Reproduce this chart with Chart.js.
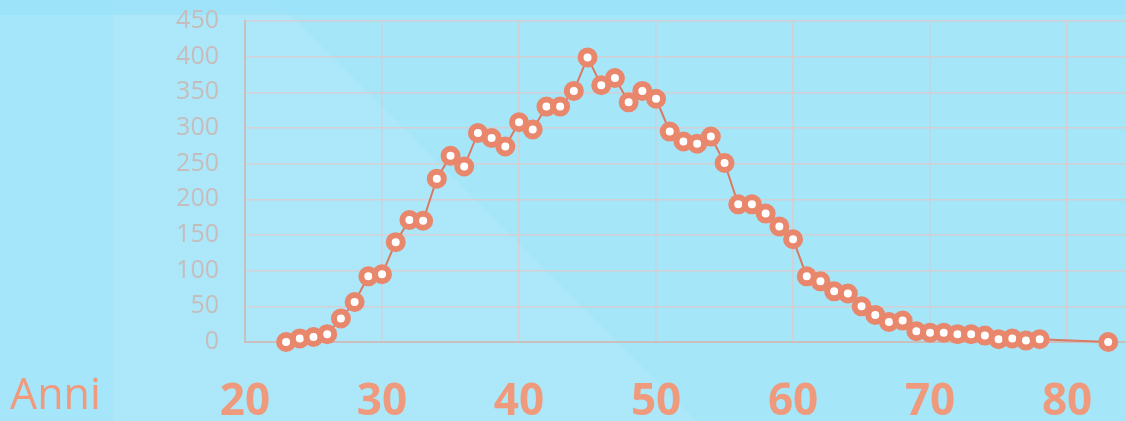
<!DOCTYPE html>
<html>
<head>
<meta charset="utf-8">
<script src="https://cdn.jsdelivr.net/npm/chart.js@4"></script>
<style>
  html, body { margin: 0; padding: 0; }
  body {
    width: 1126px; height: 421px; overflow: hidden; position: relative;
    background-color: #a6e6f9;
    background-image:
      linear-gradient(180deg, rgba(150,224,250,0.6) 0, rgba(150,224,250,0.6) 15px, transparent 15px),
      linear-gradient(90deg, rgba(160,228,250,0.5) 0, rgba(160,228,250,0.5) 113px, transparent 113px),
      linear-gradient(45deg, rgba(255,255,255,0.07) 0, rgba(255,255,255,0.07) 45%, transparent 45%);
  }
  #wrap { position: absolute; left: 0; top: 0; width: 1126px; height: 421px; }
  #unit {
    position: absolute; left: 10px; top: 371px;
    font-family: "Open Sans", sans-serif; font-size: 43px; color: #ef997d;
    line-height: 1;
  }
</style>
</head>
<body>
<div id="wrap"><canvas id="ageChart"></canvas></div>
<div id="unit">Anni</div>
<script>
// età (anni) e numero di persone
const ages = [23, 24, 25, 26, 27, 28, 29, 30, 31, 32, 33, 34, 35, 36, 37, 38, 39, 40,
              41, 42, 43, 44, 45, 46, 47, 48, 49, 50, 51, 52, 53, 54, 55, 56, 57, 58,
              59, 60, 61, 62, 63, 64, 65, 66, 67, 68, 69, 70, 71, 72, 73, 74, 75, 76,
              77, 78, 83];
const counts = [0, 5, 7, 11, 33, 56, 92, 95, 140, 171, 170, 229, 261, 246, 293, 286, 274, 308,
                298, 330, 330, 352, 399, 360, 370, 336, 352, 341, 295, 281, 278, 288, 251, 193, 193, 180,
                162, 144, 92, 85, 71, 68, 50, 38, 28, 30, 15, 13, 13, 11, 11, 9, 4, 5,
                2, 4, 0];
const xTicks = [20, 30, 40, 50, 60, 70, 80];
const yTicks = [0, 50, 100, 150, 200, 250, 300, 350, 400, 450];

function buildChart() {
    const ctx = document.getElementById('ageChart').getContext('2d');
    return new Chart(ctx, {
        type: 'line',
        data: {
            datasets: [{
                data: ages.map((a, i) => ({ x: a, y: counts[i] })),
                borderColor: '#d97a62',
                borderWidth: 2,
                pointRadius: 7,
                pointBorderWidth: 6,
                pointBackgroundColor: '#ffffff',
                pointBorderColor: '#e9876c',
                tension: 0,
                fill: false,
                clip: false
            }]
        },
        options: {
            responsive: true,
            maintainAspectRatio: false,
            animation: false,
            layout: { autoPadding: false, padding: { top: 21, right: 0, left: 0, bottom: 0 } },
            plugins: {
                legend: { display: false },
                tooltip: { enabled: false }
            },
            scales: {
                x: {
                    type: 'linear',
                    min: 20,
                    max: 84.3,
                    afterBuildTicks: axis => { axis.ticks = xTicks.map(v => ({ value: v })); },
                    afterFit: axis => {
                        axis.height = 79;
                        axis.paddingLeft = 0;
                        axis.paddingRight = 0;
                    },
                    grid: { color: 'rgba(225,200,200,0.75)', lineWidth: 1.5, drawTicks: false },
                    border: { color: '#c9bfbf', width: 2 },
                    ticks: {
                        color: '#ef997d',
                        padding: 34,
                        font: { family: 'Open Sans', size: 44, weight: 'bold' }
                    }
                },
                y: {
                    min: 0,
                    max: 450,
                    afterBuildTicks: axis => { axis.ticks = yTicks.map(v => ({ value: v })); },
                    afterFit: axis => {
                        axis.width = 245;
                        axis.paddingTop = 0;
                        axis.paddingBottom = 0;
                    },
                    grid: { color: 'rgba(225,200,200,0.75)', lineWidth: 1.5, drawTicks: false },
                    border: { color: '#c9bfbf', width: 2 },
                    ticks: {
                        color: '#c6bcbc',
                        padding: 26,
                        font: { family: 'Open Sans', size: 25 }
                    }
                }
            }
        }
    });
}

buildChart();
</script>
</body>
</html>
